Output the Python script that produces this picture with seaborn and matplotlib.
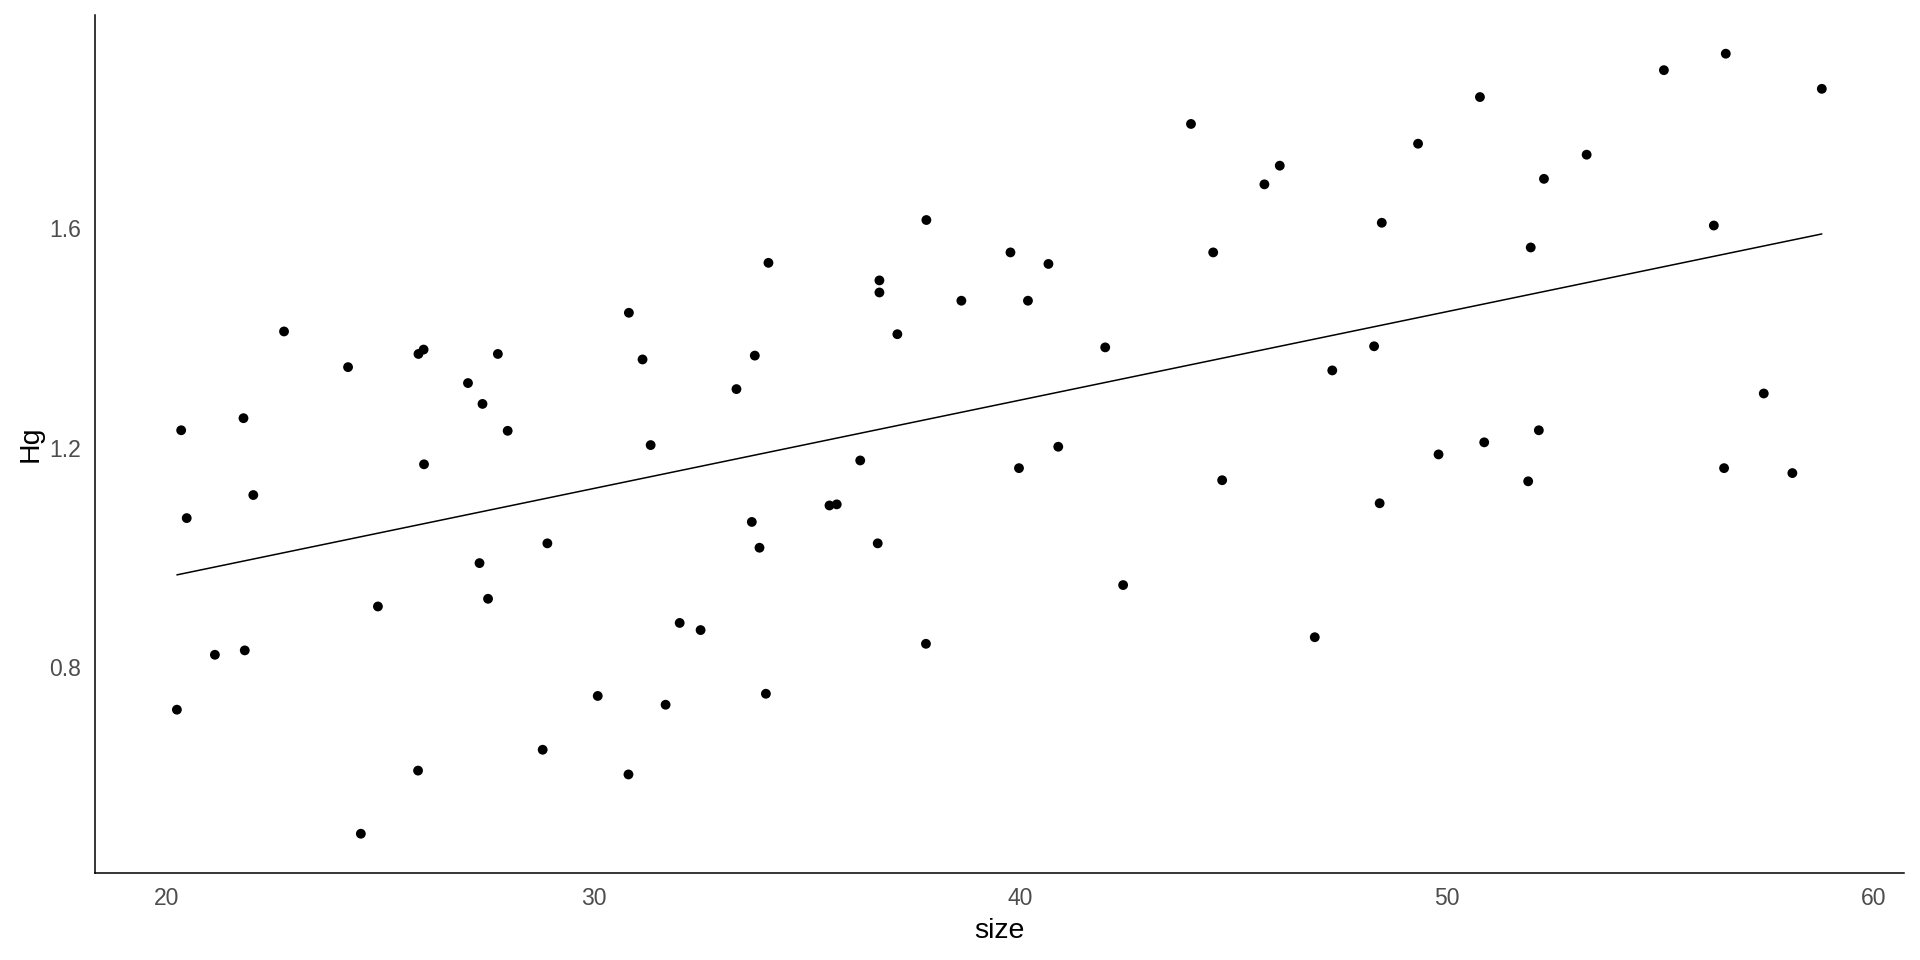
import numpy as np
import pandas as pd
import matplotlib
matplotlib.use("Agg")
import matplotlib.pyplot as plt
import seaborn as sns

# Data (size vs Hg)
size = [20.24, 20.34, 20.47, 21.13, 21.80, 21.83, 22.03, 22.75, 24.25, 24.55,
        24.95, 25.89, 25.90, 26.02, 26.03, 27.06, 27.33, 27.40, 27.53, 27.76,
        27.99, 28.81, 28.92, 30.10, 30.82, 30.83, 31.15, 31.34, 31.69, 32.02,
        32.51, 33.35, 33.71, 33.78, 33.89, 34.04, 34.10, 35.53, 35.70, 36.25,
        36.66, 36.70, 36.70, 37.12, 37.79, 37.80, 38.62, 39.77, 39.97, 40.18,
        40.66, 40.89, 41.99, 42.41, 44.00, 44.52, 44.73, 45.72, 46.08, 46.90,
        47.31, 48.29, 48.42, 48.47, 49.32, 49.80, 50.77, 50.87, 51.90, 51.96,
        52.15, 52.27, 53.27, 55.08, 56.25, 56.49, 56.53, 57.42, 58.09, 58.78]
hg = [0.723, 1.232, 1.072, 0.823, 1.254, 0.831, 1.114, 1.412, 1.347, 0.497,
      0.911, 0.612, 1.371, 1.379, 1.170, 1.318, 0.990, 1.280, 0.925, 1.371,
      1.231, 0.650, 1.026, 0.748, 0.605, 1.446, 1.361, 1.205, 0.732, 0.881,
      0.868, 1.307, 1.065, 1.368, 1.018, 0.752, 1.537, 1.095, 1.097, 1.177,
      1.026, 1.505, 1.483, 1.407, 0.843, 1.615, 1.468, 1.556, 1.163, 1.468,
      1.535, 1.202, 1.383, 0.950, 1.790, 1.556, 1.141, 1.680, 1.714, 0.855,
      1.341, 1.385, 1.099, 1.610, 1.754, 1.188, 1.839, 1.210, 1.139, 1.565,
      1.232, 1.690, 1.734, 1.888, 1.605, 1.163, 1.918, 1.299, 1.154, 1.854]

x_ticks = [20, 30, 40, 50, 60]
y_ticks = [0.8, 1.2, 1.6]

df = pd.DataFrame({"size": size, "Hg": hg})

sns.set_style("white")
plt.rcParams['font.family'] = ['Liberation Sans', 'DejaVu Sans']

fig = plt.figure(figsize=(19.2, 9.6), dpi=100)
ax = fig.add_axes([0.0493, 0.0909, 0.9424, 0.8938])

# scatter + least squares line, no confidence band
sns.regplot(x="size", y="Hg", data=df, ci=None, ax=ax,
            scatter_kws={"s": 50, "color": "black", "edgecolor": "none", "alpha": 1},
            line_kws={"color": "black", "linewidth": 1.1})

# ggplot style 5% expansion
xr = df["size"].max() - df["size"].min()
yr = df["Hg"].max() - df["Hg"].min()
ax.set_xlim(df["size"].min() - 0.05 * xr, df["size"].max() + 0.05 * xr)
ax.set_ylim(df["Hg"].min() - 0.05 * yr, df["Hg"].max() + 0.05 * yr)

ax.set_xticks(x_ticks)
ax.set_yticks(y_ticks)
ax.set_yticklabels([f"{t:.1f}" for t in y_ticks])

sns.despine(ax=ax)
for side in ["left", "bottom"]:
    ax.spines[side].set_color("black")
    ax.spines[side].set_linewidth(1.1)

ax.tick_params(axis="both", which="major", direction="out", length=5, width=1.1,
               color="#333333", labelcolor="#4D4D4D", labelsize=16.5, pad=5)
ax.set_xlabel("size", fontsize=20.5, color="black", labelpad=6)
ax.set_ylabel("Hg", fontsize=20.5, color="black", labelpad=4)

fig.savefig("out.png", dpi=100, facecolor="white")
